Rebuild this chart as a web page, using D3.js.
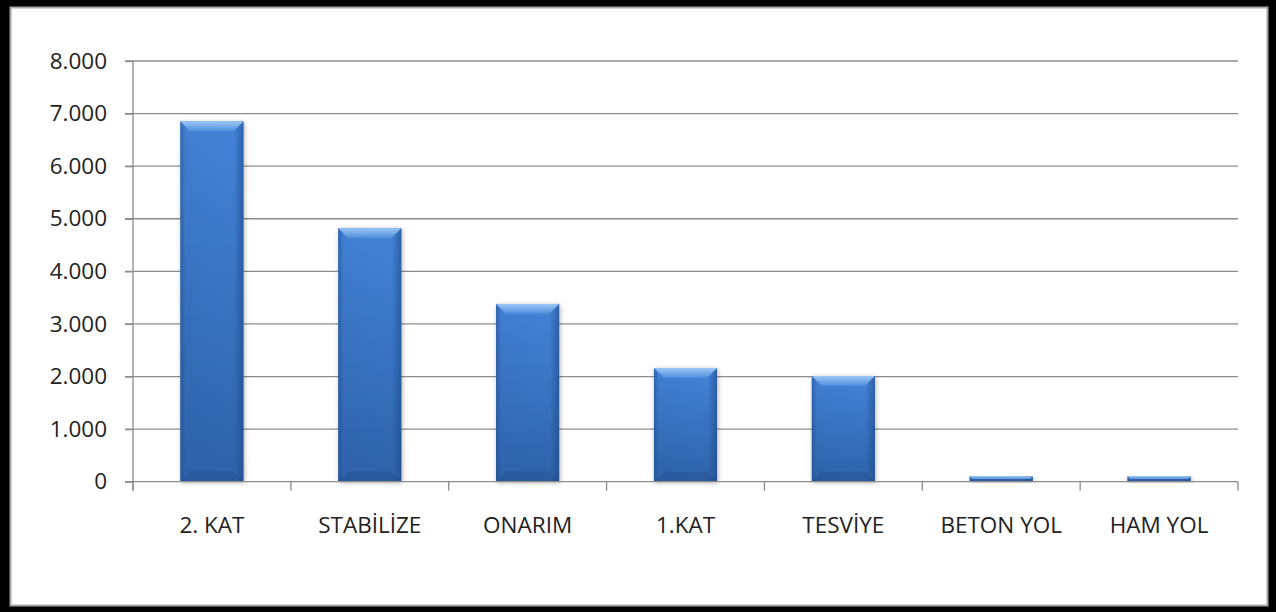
<!doctype html>
<html>
<head>
<meta charset="utf-8">
<script src="https://cdn.jsdelivr.net/npm/d3@7"></script>
<style>
  html, body { margin: 0; padding: 0; background: #fff; }
  svg { display: block; font-family: "Open Sans", sans-serif; }
</style>
</head>
<body>
<script>
// Chart values.
const categories = ["2. KAT", "STABİLİZE", "ONARIM", "1.KAT", "TESVİYE", "BETON YOL", "HAM YOL"];
const values = [6850, 4820, 3380, 2160, 2010, 100, 100];
const yTicks = [0, 1000, 2000, 3000, 4000, 5000, 6000, 7000, 8000];

const data = categories.map((c, i) => ({category: c, value: values[i]}));

// Dimensions.
const width = 1282;
const height = 612;
const plotLeft = 133;
const plotRight = 1238;
const plotTop = 61;
const plotBottom = 481.7;

const locale = d3.formatLocale({decimal: ",", thousands: ".", grouping: [3], currency: ["", "TL"]});
const fmt = locale.format(",d");

const x = d3.scaleBand(categories, [plotLeft, plotRight]).paddingInner(0.6).paddingOuter(0.3);
const y = d3.scaleLinear([0, 8000], [plotBottom, plotTop]);

const svg = d3.select("body").append("svg")
    .attr("width", width)
    .attr("height", height)
    .attr("viewBox", [0, 0, width, height]);

const defs = svg.append("defs");

const base = defs.append("linearGradient").attr("id", "base")
    .attr("x1", 0).attr("y1", 0).attr("x2", 0).attr("y2", 1);
base.append("stop").attr("offset", "0%").attr("stop-color", "#4586dc");
base.append("stop").attr("offset", "100%").attr("stop-color", "#2f64ad");

const sides = defs.append("linearGradient").attr("id", "sides")
    .attr("x1", 0).attr("y1", 0).attr("x2", 1).attr("y2", 0);
sides.append("stop").attr("offset", "0%").attr("stop-color", "#1d4785").attr("stop-opacity", 0.55);
sides.append("stop").attr("offset", "8%").attr("stop-color", "#1d4785").attr("stop-opacity", 0.1);
sides.append("stop").attr("offset", "85%").attr("stop-color", "#1d4785").attr("stop-opacity", 0.05);
sides.append("stop").attr("offset", "100%").attr("stop-color", "#1d4785").attr("stop-opacity", 0.6);

const bevelTop = defs.append("linearGradient").attr("id", "bevelTop")
    .attr("x1", 0).attr("y1", 0).attr("x2", 0).attr("y2", 1);
bevelTop.append("stop").attr("offset", "0%").attr("stop-color", "#9cc6f5");
bevelTop.append("stop").attr("offset", "100%").attr("stop-color", "#4d8cdb");

const shadow = defs.append("filter").attr("id", "shadow")
    .attr("x", "-20%").attr("y", "-5%").attr("width", "140%").attr("height", "115%");
shadow.append("feGaussianBlur").attr("in", "SourceAlpha").attr("stdDeviation", 2.5);
shadow.append("feOffset").attr("dx", 1).attr("dy", 1).attr("result", "b");
shadow.append("feComponentTransfer").append("feFuncA").attr("type", "linear").attr("slope", 0.3);
const merge = shadow.append("feMerge");
merge.append("feMergeNode");
merge.append("feMergeNode").attr("in", "SourceGraphic");

// Frame.
svg.append("rect").attr("width", 1276).attr("height", height).attr("fill", "#000");
svg.append("rect")
    .attr("x", 10.5).attr("y", 7.5)
    .attr("width", 1257).attr("height", 598)
    .attr("fill", "#fff")
    .attr("stroke", "#a6a6a6")
    .attr("stroke-width", 2);

// Grid lines.
svg.append("g")
    .attr("stroke", "#8c8c8c")
    .attr("stroke-width", 1.3)
  .selectAll("line")
  .data(yTicks.slice(1))
  .join("line")
    .attr("x1", plotLeft - 8).attr("x2", plotRight)
    .attr("y1", (d) => y(d)).attr("y2", (d) => y(d));

// Y axis.
svg.append("g")
    .attr("transform", `translate(${plotLeft},0)`)
    .call(d3.axisLeft(y).tickValues(yTicks).tickFormat(fmt).tickSize(8).tickPadding(18))
    .call((g) => g.selectAll(".domain, line").attr("stroke", "#8c8c8c").attr("stroke-width", 1.3))
    .call((g) => g.select(".domain").attr("d", `M0,${plotTop}V${plotBottom + 9}`))
    .call((g) => g.selectAll("text")
        .attr("fill", "#222")
        .attr("font-size", 22.5)
        .attr("font-family", "Open Sans, sans-serif"));

// Bars.
const bevel = 10;
const bars = svg.append("g").selectAll("g")
  .data(data)
  .join("g")
    .attr("transform", (d) => `translate(${x(d.category)},${y(d.value)})`);

bars.append("rect")
    .attr("width", x.bandwidth())
    .attr("height", (d) => y(0) - y(d.value))
    .attr("fill", "url(#base)")
    .attr("filter", "url(#shadow)");

bars.append("rect")
    .attr("width", x.bandwidth())
    .attr("height", (d) => y(0) - y(d.value))
    .attr("fill", "url(#sides)");

bars.append("path")
    .attr("fill", "url(#bevelTop)")
    .attr("d", (d) => {
      const w = x.bandwidth();
      const b = Math.min(bevel, (y(0) - y(d.value)) / 2);
      return `M0,0H${w}L${w - b},${b}H${b}Z`;
    });

bars.append("path")
    .attr("fill", "#25508f")
    .attr("fill-opacity", 0.45)
    .attr("d", (d) => {
      const w = x.bandwidth();
      const h = y(0) - y(d.value);
      const b = Math.min(bevel, h / 2);
      return `M0,${h}H${w}L${w - b},${h - b}H${b}Z`;
    });

// X axis.
const boundaries = d3.range(categories.length + 1).map((i) => plotLeft + i * x.step());
const xAxis = svg.append("g")
    .attr("stroke", "#8c8c8c")
    .attr("stroke-width", 1.3);
xAxis.append("line")
    .attr("x1", plotLeft - 8).attr("x2", plotRight)
    .attr("y1", plotBottom).attr("y2", plotBottom);
xAxis.selectAll(".tick")
  .data(boundaries)
  .join("line")
    .attr("class", "tick")
    .attr("x1", (d) => d).attr("x2", (d) => d)
    .attr("y1", plotBottom).attr("y2", plotBottom + 9);

svg.append("g")
  .selectAll("text")
  .data(categories)
  .join("text")
    .attr("x", (d) => x(d) + x.bandwidth() / 2)
    .attr("y", 533)
    .attr("text-anchor", "middle")
    .attr("fill", "#222")
    .attr("font-size", 22.5)
    .text((d) => d);
</script>
</body>
</html>
